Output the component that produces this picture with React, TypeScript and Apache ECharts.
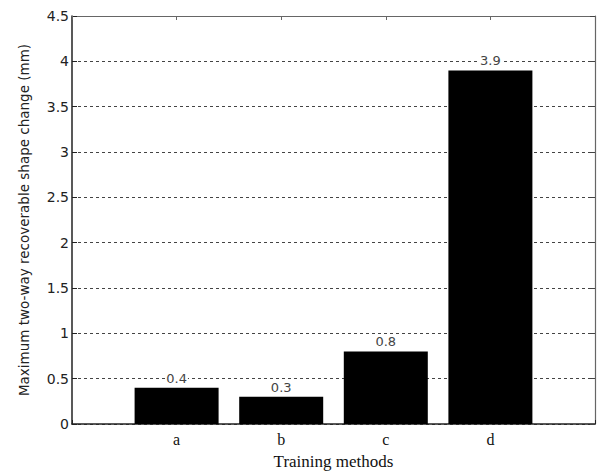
import React, { useEffect, useRef } from "react";
import * as echarts from "echarts";

const categories = ["a", "b", "c", "d"];
const values = [0.4, 0.3, 0.8, 3.9];
const yTicks = [0, 0.5, 1, 1.5, 2, 2.5, 3, 3.5, 4, 4.5];

export default function App() {
  const ref = useRef<HTMLDivElement>(null);
  useEffect(() => {
    if (!ref.current) return;
    const chart = echarts.init(ref.current, null, { renderer: "svg" });
    const data = values.map((v, i) => [i + 1, v]);
    const serif = "Liberation Serif";
    const sans = "DejaVu Sans";
    chart.setOption({
      animation: false,
      backgroundColor: "#fff",
      grid: {
        left: 72,
        right: 2,
        top: 16,
        bottom: 47,
        outerBoundsMode: "none",
        containLabel: false,
      },
      xAxis: [
        {
          type: "value",
          min: 0,
          max: 5,
          interval: 1,
          name: "Training methods",
          nameLocation: "middle",
          nameGap: 29,
          nameTextStyle: { fontFamily: serif, fontSize: 17, color: "#111" },
          axisLine: { show: true, onZero: false, lineStyle: { color: "#222", width: 1.5 } },
          axisTick: { show: true, inside: true, length: 4, lineStyle: { color: "#222" } },
          axisLabel: {
            fontFamily: serif,
            fontSize: 16,
            color: "#111",
            margin: 7,
            formatter: (v: number) => (v >= 1 && v <= categories.length ? categories[v - 1] : ""),
          },
          splitLine: { show: false },
        },
        {
          type: "value",
          position: "top",
          min: 0,
          max: 5,
          interval: 1,
          axisLine: { show: true, onZero: false, lineStyle: { color: "#666", width: 1.2 } },
          axisTick: { show: true, inside: true, length: 4, lineStyle: { color: "#666" } },
          axisLabel: { show: false },
          splitLine: { show: false },
        },
      ],
      yAxis: [
        {
          type: "value",
          min: 0,
          max: 4.5,
          interval: 0.5,
          name: "Maximum two-way recoverable shape change (mm)",
          nameLocation: "middle",
          nameGap: 41,
          nameTextStyle: { fontFamily: sans, fontSize: 13.5, color: "#222" },
          axisLine: { show: true, onZero: false, lineStyle: { color: "#222", width: 1.5 } },
          axisTick: { show: true, inside: true, length: 5, lineStyle: { color: "#222" } },
          axisLabel: {
            fontFamily: sans,
            fontSize: 14,
            color: "#222",
            margin: 3,
            formatter: (v: number) => {
              const t = yTicks.find((x) => Math.abs(x - v) < 1e-9);
              return t === undefined ? "" : String(t);
            },
          },
          splitLine: {
            show: true,
            lineStyle: { color: "#444", type: [3, 3], width: 1 },
          },
        },
        {
          type: "value",
          position: "right",
          min: 0,
          max: 4.5,
          interval: 0.5,
          axisLine: { show: true, onZero: false, lineStyle: { color: "#666", width: 1.2 } },
          axisTick: { show: true, inside: true, length: 5, lineStyle: { color: "#444" } },
          axisLabel: { show: false },
          splitLine: { show: false },
        },
      ],
      series: [
        {
          type: "bar",
          data,
          barWidth: 84,
          itemStyle: { color: "#000" },
          label: {
            show: true,
            position: "top",
            distance: 3,
            fontFamily: sans,
            fontSize: 13,
            color: "#444",
            backgroundColor: "#fff",
            padding: [0, 1],
            formatter: (p: any) => String(p.value[1]),
          },
          z: 3,
        },
        {
          type: "scatter",
          xAxisIndex: 1,
          yAxisIndex: 1,
          data: [[0, 0]],
          symbolSize: 0,
          silent: true,
        },
      ],
    });
    return () => chart.dispose();
  }, []);
  return (
    <div
      ref={ref}
      style={{ position: "fixed", left: 0, top: 0, width: 597, height: 471 }}
    />
  );
}
